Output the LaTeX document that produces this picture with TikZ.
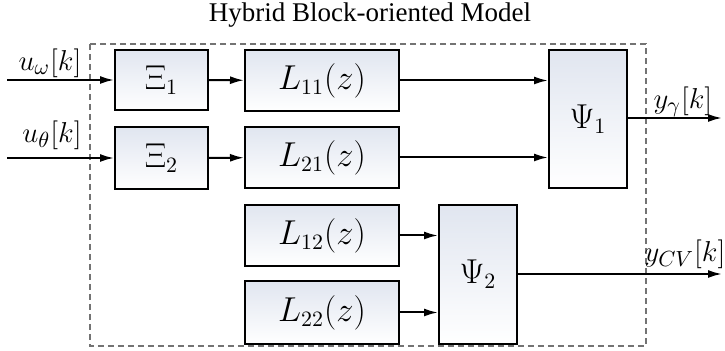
\documentclass[tikz,border=0pt]{standalone}
\usepackage{amsmath}
\usepackage{fontspec}
\setmainfont{Liberation Serif}
\usetikzlibrary{arrows.meta}
\usetikzlibrary{positioning}
\tikzset{blk/.style = {draw, line width = 1pt, top color = blkc, bottom color = white,
    inner sep = 0, font = \fontsize{16}{19}\selectfont}}
\tikzset{sig/.style = {line width = 1pt, -{Latex[length = 7pt, width = 4pt]}}}
\tikzset{lbl/.style = {inner sep = 0, font = \fontsize{15}{18}\selectfont}}
\definecolor{blkc}{rgb}{0.88, 0.9, 0.94}
\definecolor{dgray}{rgb}{0.45, 0.45, 0.45}

\begin{document}
\begin{tikzpicture}[x = 0.5pt, y = -0.5pt]
    \useasboundingbox (0, 0) rectangle (725, 351);

    \node [font = \fontsize{13.5}{16}\selectfont] (title) at (370, 15) {Hybrid Block-oriented Model};
    \draw [dgray, line width = 0.8pt, dash pattern = on 3pt off 2pt] (90, 44) rectangle (646, 346);

    \node [blk, minimum width = 46.5pt, minimum height = 30pt] (xi1) at (161.5, 80) {$\Xi_1$};
    \node [blk, minimum width = 46.5pt, minimum height = 31pt] (xi2) at (161.5, 158) {$\Xi_2$};

    \node [blk, minimum width = 77pt, minimum height = 30.5pt] (l11) at (322, 80.5) {$L_{11}(z)$};
    \node [blk, minimum width = 77pt, minimum height = 30.5pt] (l21) at (322, 157.5) {$L_{21}(z)$};
    \node [blk, minimum width = 77pt, minimum height = 30.5pt] (l12) at (322, 235.5) {$L_{12}(z)$};
    \node [blk, minimum width = 77pt, minimum height = 31.5pt] (l22) at (322, 312.5) {$L_{22}(z)$};

    \node [blk, minimum width = 39pt, minimum height = 69pt] (psi1) at (588, 119) {$\Psi_1$};
    \node [blk, minimum width = 39pt, minimum height = 69.5pt] (psi2) at (478, 274.5) {$\Psi_2$};

    \coordinate (in1) at (7, 80);
    \coordinate (in2) at (7, 158);
    \coordinate (out1) at (722, 118);
    \coordinate (out2) at (722, 274);

    \node [lbl] (uw) at (50, 63) {$u_\omega[k]$};
    \node [lbl] (ut) at (52, 135) {$u_\theta[k]$};
    \node [lbl] (yg) at (683, 102) {$y_\gamma[k]$};
    \node [lbl] (ycv) at (685, 254) {$y_{CV}[k]$};

    \draw [sig] (in1) -- (xi1);
    \draw [sig] (in2) -- (xi2);
    \draw [sig] (xi1) -- (l11);
    \draw [sig] (xi2) -- (l21);
    \draw [sig] (l11.east) -- (l11.east -| psi1.west);
    \draw [sig] (l21.east) -- (l21.east -| psi1.west);
    \draw [sig] (l12.east) -- (l12.east -| psi2.west);
    \draw [sig] (l22.east) -- (l22.east -| psi2.west);
    \draw [sig] (psi1.east |- out1) -- (out1);
    \draw [sig] (psi2.east |- out2) -- (out2);
  \end{tikzpicture}
\end{document}
